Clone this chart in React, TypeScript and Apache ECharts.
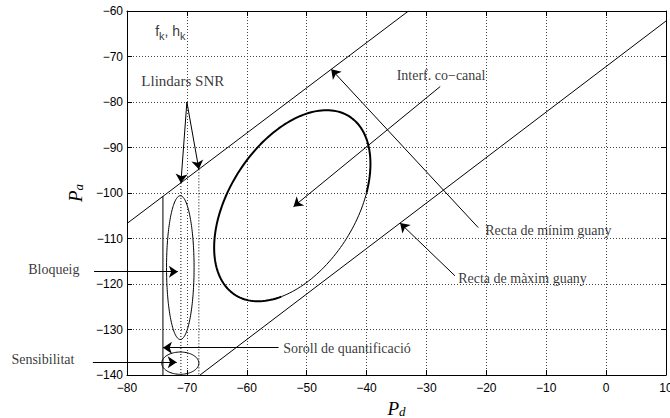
import React, { useEffect, useRef } from "react";
import * as echarts from "echarts";

// ---- axes ----
const X_MIN = -80, X_MAX = 10, X_STEP = 10;
const Y_MIN = -140, Y_MAX = -60, Y_STEP = 10;

// ---- straight lines (data coords) ----
const minGainLine = [[-80, -106.7], [-33.0, -60]];
const maxGainLine = [[-67.8, -140], [10, -62.2]];
const sensLimitLine = [[-74, -140], [-74, -100.7]];
const snrThresholdA = [[-71, -97.8], [-71, -140]];
const snrThresholdB = [[-68, -94.8], [-68, -140]];

// ---- ellipses: centre, semi-axes, phase (deg) ----
const coChannel = { cx: -52.4, cy: -102.8, rx: 13.05, ry: 21, phase: 64 };
const blocking = { cx: -71.1, cy: -116.4, rx: 2.3, ry: 15.8, phase: 90 };
const sensitivity = { cx: -71.1, cy: -137.4, rx: 3.1, ry: 2.45, phase: 90 };

// ---- arrows: [from, to] ----
const arrows = [
  [[-70, -80], [-71, -97.8]],
  [[-70, -80], [-68, -94.8]],
  [[-27.7, -76.6], [-52.2, -103]],
  [[-21.35, -107.6], [-45.9, -72.8]],
  [[-25.24, -118.2], [-34.4, -106.6]],
  [[-85.5, -117.3], [-71.5, -117.3]],
  [[-85.7, -137.2], [-71.7, -137.2]],
  [[-54.7, -134.0], [-74, -134.0]],
];

// ---- annotation texts: label, anchor (left-middle) ----
const annTexts = ["Llindars SNR", "Interf. co\u2212canal", "Recta de mínim guany", "Recta de màxim guany", "Bloqueig", "Sensibilitat", "Soroll de quantificació"];
const annAnchors = [[-77.6, -75.4], [-34.97, -74.1], [-20.2, -108.35], [-24.7, -118.7], [-96.5, -116.9], [-99.3, -136.7], [-53.9, -134.07]];
const fkAnchor = [-75.3, -64.5];

function ellipsePts(e: any, t0: number, t1: number) {
  const pts: number[][] = [];
  const ph = (e.phase * Math.PI) / 180;
  for (let t = t0; t <= t1 + 1e-9; t += 2) {
    const r = (t * Math.PI) / 180;
    pts.push([e.cx + e.rx * Math.cos(r), e.cy + e.ry * Math.cos(r - ph)]);
  }
  return pts;
}

const minus = (v: number) => String(v).replace("-", "\u2212");

const serif = "Liberation Serif";
const sans = "Liberation Sans";

function lineSeries(data: number[][], width = 1, dotted = false, clip = true) {
  return {
    type: "line",
    data,
    symbol: "none",
    showSymbol: false,
    clip,
    silent: true,
    lineStyle: { color: "#000", width, type: dotted ? [1, 2] : "solid" },
  };
}

export default function App() {
  const ref = useRef<HTMLDivElement>(null);
  useEffect(() => {
    if (!ref.current) return;
    const chart = echarts.init(ref.current, null, { renderer: "svg" });
    const axisCommon = {
      type: "value",
      axisLine: { show: true, onZero: false, lineStyle: { color: "#000", width: 1 } },
      axisTick: { show: true, inside: true, length: 5, lineStyle: { color: "#000" } },
    };
    const split = { show: true, lineStyle: { type: [1, 2], color: "#444", width: 1 } };
    const option: any = {
      animation: false,
      grid: { left: 127, right: 4, top: 11, bottom: 43, containLabel: false, outerBoundsMode: "none" },
      xAxis: [
        {
          ...axisCommon,
          min: X_MIN, max: X_MAX, interval: X_STEP, position: "bottom",
          axisLabel: { color: "#000", fontFamily: sans, fontSize: 12, margin: 7, formatter: minus },
          splitLine: split,
          name: "{p|P}{s|d}",
          nameLocation: "middle",
          nameGap: 19,
          nameTextStyle: {
            rich: {
              p: { fontFamily: serif, fontStyle: "italic", fontSize: 19, color: "#000" },
              s: { fontFamily: serif, fontStyle: "italic", fontSize: 13, color: "#000", padding: [7, 0, 0, 0] },
            },
          },
        },
        {
          ...axisCommon,
          min: X_MIN, max: X_MAX, interval: X_STEP, position: "top",
          axisLabel: { show: false }, splitLine: { show: false },
        },
      ],
      yAxis: [
        {
          ...axisCommon,
          min: Y_MIN, max: Y_MAX, interval: Y_STEP, position: "left",
          axisLabel: { color: "#000", fontFamily: sans, fontSize: 12, margin: 4, formatter: minus },
          splitLine: split,
          name: "{p|P}{s|a}",
          nameLocation: "middle",
          nameRotate: 90,
          nameGap: 37,
          nameTextStyle: {
            rich: {
              p: { fontFamily: serif, fontStyle: "italic", fontSize: 19, color: "#000" },
              s: { fontFamily: serif, fontStyle: "italic", fontSize: 13, color: "#000", padding: [7, 0, 0, 0] },
            },
          },
        },
        {
          ...axisCommon,
          min: Y_MIN, max: Y_MAX, interval: Y_STEP, position: "right",
          axisLabel: { show: false }, splitLine: { show: false },
        },
      ],
      series: [
        lineSeries(minGainLine),
        lineSeries(maxGainLine),
        lineSeries(sensLimitLine),
        lineSeries(snrThresholdA, 1, true),
        lineSeries(snrThresholdB, 1, true),
        lineSeries(ellipsePts(coChannel, 342, 623), 2),
        lineSeries(ellipsePts(coChannel, 262, 344), 1),
        lineSeries(ellipsePts(blocking, 0, 360), 1),
        lineSeries(ellipsePts(sensitivity, 0, 360), 1),
        {
          type: "lines",
          coordinateSystem: "cartesian2d",
          polyline: false,
          clip: false,
          silent: true,
          symbol: ["none", "arrow"],
          symbolSize: 9,
          lineStyle: { color: "#000", width: 1, opacity: 1, curveness: 0 },
          data: arrows.map((a) => ({ coords: a })),
        },
        {
          type: "scatter",
          clip: false,
          silent: true,
          symbolSize: 0,
          data: annTexts.map((t, i) => ({
            value: annAnchors[i],
            label: {
              show: true,
              position: "right",
              distance: 0,
              formatter: t,
              color: "#000",
              fontFamily: serif,
              fontSize: i === 0 ? 15 : 14,
            },
          })),
        },
        {
          type: "scatter",
          clip: false,
          silent: true,
          symbolSize: 0,
          data: [
            {
              value: fkAnchor,
              label: {
                show: true,
                position: "right",
                distance: 0,
                formatter: "{m|f}{s|k}{m|, h}{s|k}",
                rich: {
                  m: { fontFamily: sans, fontSize: 14, color: "#000" },
                  s: { fontFamily: sans, fontSize: 11, color: "#000", padding: [9, 0, 0, 0] },
                },
              },
            },
          ],
        },
      ],
    };
    chart.setOption(option);
    return () => chart.dispose();
  }, []);
  return <div ref={ref} style={{ position: "absolute", left: 0, top: 0, width: 670, height: 418 }} />;
}
